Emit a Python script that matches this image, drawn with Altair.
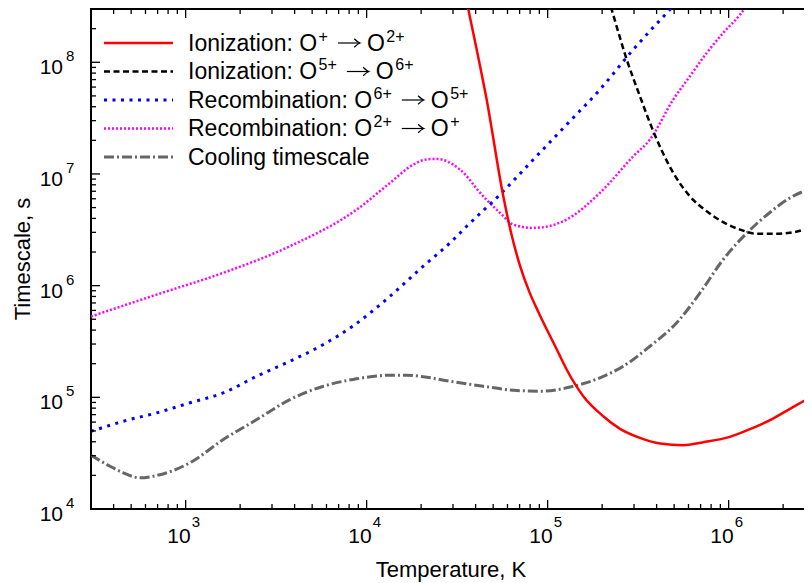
import altair as alt
import pandas as pd

FONT = "Liberation Sans"

# ---------------- data ----------------
# values are log10(T / K) and log10(timescale / s)
ion_o1_logT = [4.54, 4.562, 4.608, 4.663, 4.755, 4.80, 4.847, 4.90, 4.95, 5.05, 5.105,
               5.197, 5.307, 5.400, 5.510, 5.621, 5.749, 5.860, 6.007, 6.118, 6.228, 6.339, 6.460, 6.49]
ion_o1_logtau = [8.65, 8.472, 8.114, 7.666, 6.80, 6.46, 6.18, 5.94, 5.76, 5.43, 5.249,
                 5.010, 4.831, 4.718, 4.637, 4.586, 4.571, 4.598, 4.646, 4.715, 4.795, 4.897, 5.010, 5.04]

ion_o5_logT = [5.32, 5.354, 5.437, 5.510, 5.565, 5.694, 5.786, 5.879, 5.970, 6.063, 6.155, 6.247,
               6.339, 6.431, 6.460, 6.49]
ion_o5_logtau = [8.66, 8.472, 8.024, 7.696, 7.458, 7.010, 6.800, 6.666, 6.568, 6.502, 6.464, 6.464,
                 6.473, 6.511, 6.532, 6.555]

rec_o6_logT = [2.477, 2.656, 2.840, 3.024, 3.208, 3.393, 3.576, 3.761, 3.926, 4.129, 4.313, 4.461,
               4.553, 4.737, 4.921, 5.105, 5.289, 5.473, 5.565, 5.676, 5.72]
rec_o6_logtau = [4.695, 4.786, 4.861, 4.951, 5.040, 5.189, 5.323, 5.473, 5.64, 5.905, 6.174, 6.383,
                 6.532, 6.816, 7.129, 7.442, 7.756, 8.114, 8.28, 8.472, 8.55]

rec_o2_logT = [2.477, 2.840, 3.208, 3.576, 3.945, 4.129, 4.258, 4.33, 4.387, 4.516, 4.644, 4.737,
               4.810, 4.921, 5.013, 5.105, 5.289, 5.473, 5.565, 5.694, 5.786, 5.879, 5.970, 6.063, 6.11]
rec_o2_logtau = [5.724, 5.920, 6.115, 6.353, 6.681, 6.920, 7.084, 7.13, 7.135, 7.039, 6.800, 6.652,
                 6.547, 6.517, 6.535, 6.592, 6.831, 7.158, 7.308, 7.666, 7.875, 8.084, 8.263, 8.427, 8.53]

cool_logT = [2.477, 2.582, 2.656, 2.748, 2.840, 3.024, 3.208, 3.393, 3.576, 3.761, 3.945, 4.129,
             4.221, 4.313, 4.461, 4.644, 4.829, 4.976, 5.105, 5.289, 5.418, 5.565, 5.713, 5.842,
             5.970, 6.100, 6.228, 6.339, 6.431, 6.460, 6.49]
cool_logtau = [4.482, 4.383, 4.324, 4.279, 4.300, 4.414, 4.622, 4.801, 4.980, 5.099, 5.166, 5.198,
               5.198, 5.184, 5.144, 5.099, 5.061, 5.055, 5.085, 5.175, 5.278, 5.457, 5.667, 5.936,
               6.234, 6.47, 6.655, 6.786, 6.854, 6.867, 6.875]

# legend labels as (text, kind) pieces: b = normal, s = superscript, a = arrow
legend_labels = [
    [("Ionization: O", "b"), ("+", "s"), ("→", "a"), ("O", "b"), ("2+", "s")],
    [("Ionization: O", "b"), ("5+", "s"), ("→", "a"), ("O", "b"), ("6+", "s")],
    [("Recombination: O", "b"), ("6+", "s"), ("→", "a"), ("O", "b"), ("5+", "s")],
    [("Recombination: O", "b"), ("2+", "s"), ("→", "a"), ("O", "b"), ("+", "s")],
    [("Cooling timescale", "b")],
]
series_colors = ["#ff0000", "#000000", "#0000ff", "#ff00ff", "#666666"]
series_dash = [None, [6, 3.5], [3, 5.5], [2, 2], [10, 3, 2, 3]]
series_width = [2.5, 2.5, 3, 2.5, 3]
series_data = [
    (ion_o1_logT, ion_o1_logtau),
    (ion_o5_logT, ion_o5_logtau),
    (rec_o6_logT, rec_o6_logtau),
    (rec_o2_logT, rec_o2_logtau),
    (cool_logT, cool_logtau),
]

x_major = [1e3, 1e4, 1e5, 1e6]
x_major_exp = ["3", "4", "5", "6"]
y_major = [1e4, 1e5, 1e6, 1e7, 1e8]
y_major_exp = ["4", "5", "6", "7", "8"]
x_title = "Temperature, K"
y_title = "Timescale, s"

X_MIN, X_MAX = 300, 3e6
Y_MIN, Y_MAX = 1e4, 3e8
W, H = 724, 500

x_minor = [k * 10 ** n for n in range(2, 7) for k in range(2, 10) if X_MIN < k * 10 ** n < X_MAX]
y_minor = [k * 10 ** n for n in range(4, 9) for k in range(2, 10) if Y_MIN < k * 10 ** n < Y_MAX]

x_scale = alt.Scale(type="log", domain=[X_MIN, X_MAX], nice=False)
y_scale = alt.Scale(type="log", domain=[Y_MIN, Y_MAX], nice=False)

layers = []

# ---------------- curves ----------------
draw_order = [4, 3, 2, 1, 0]
for idx in draw_order:
    lt, ltau = series_data[idx]
    df = pd.DataFrame({
        "T": [10 ** v for v in lt],
        "tau": [10 ** v for v in ltau],
        "i": list(range(len(lt))),
    })
    kw = dict(color=series_colors[idx], strokeWidth=series_width[idx], clip=True,
              interpolate="monotone", strokeCap="butt")
    if series_dash[idx] is not None:
        kw["strokeDash"] = series_dash[idx]
    layers.append(
        alt.Chart(df).mark_line(**kw).encode(
            x=alt.X("T:Q", scale=x_scale, axis=None),
            y=alt.Y("tau:Q", scale=y_scale, axis=None),
            order="i:Q",
        )
    )

# ---------------- ticks (inward, mirrored) ----------------
def xticks(vals, length):
    d = pd.DataFrame({"v": vals})
    enc_x = alt.X("v:Q", scale=x_scale, axis=None)
    return [
        alt.Chart(d).mark_rule(color="black", strokeWidth=1.3).encode(
            x=enc_x, y=alt.value(H), y2=alt.value(H - length)),
        alt.Chart(d).mark_rule(color="black", strokeWidth=1.3).encode(
            x=enc_x, y=alt.value(0), y2=alt.value(length)),
    ]

def yticks(vals, length):
    d = pd.DataFrame({"v": vals})
    enc_y = alt.Y("v:Q", scale=y_scale, axis=None)
    return [
        alt.Chart(d).mark_rule(color="black", strokeWidth=1.3).encode(
            y=enc_y, x=alt.value(0), x2=alt.value(length)),
        alt.Chart(d).mark_rule(color="black", strokeWidth=1.3).encode(
            y=enc_y, x=alt.value(W), x2=alt.value(W - length)),
    ]

layers += xticks(x_major, 9) + xticks(x_minor, 5) + yticks(y_major, 9) + yticks(y_minor, 5)

# ---------------- tick labels (10 with superscript exponent) ----------------
xl = pd.DataFrame({"v": x_major, "e": x_major_exp, "b": ["10"] * len(x_major)})
layers.append(alt.Chart(xl).mark_text(align="right", baseline="alphabetic", dx=5,
                                      font=FONT, fontSize=21).encode(
    x=alt.X("v:Q", scale=x_scale, axis=None), y=alt.value(534), text="b:N"))
layers.append(alt.Chart(xl).mark_text(align="left", baseline="alphabetic", dx=6,
                                      font=FONT, fontSize=15).encode(
    x=alt.X("v:Q", scale=x_scale, axis=None), y=alt.value(518), text="e:N"))

yl = pd.DataFrame({"v": y_major, "e": y_major_exp, "b": ["10"] * len(y_major)})
layers.append(alt.Chart(yl).mark_text(align="right", baseline="alphabetic", dy=12,
                                      font=FONT, fontSize=21).encode(
    y=alt.Y("v:Q", scale=y_scale, axis=None), x=alt.value(-28), text="b:N"))
layers.append(alt.Chart(yl).mark_text(align="left", baseline="alphabetic", dy=-1,
                                      font=FONT, fontSize=15).encode(
    y=alt.Y("v:Q", scale=y_scale, axis=None), x=alt.value(-25), text="e:N"))

# ---------------- axis titles ----------------
layers.append(alt.Chart(pd.DataFrame({"t": [x_title]})).mark_text(
    align="center", baseline="alphabetic", font=FONT, fontSize=22).encode(
    x=alt.value(360), y=alt.value(568), text="t:N"))
layers.append(alt.Chart(pd.DataFrame({"t": [y_title]})).mark_text(
    align="center", baseline="alphabetic", angle=270, font=FONT, fontSize=22).encode(
    x=alt.value(-61), y=alt.value(250), text="t:N"))

# ---------------- legend (hand-placed, Arial/Liberation advance widths) ----------------
ADV = {"I": 278, "o": 556, "n": 556, "i": 222, "z": 500, "a": 556, "t": 278, ":": 278,
       " ": 278, "O": 778, "R": 722, "e": 556, "c": 500, "m": 833, "b": 556, "C": 722,
       "l": 222, "g": 556, "s": 500, "+": 584}

def text_width(s, size):
    return sum(ADV.get(ch, 556) for ch in s) * size / 1000.0

ARROW_HEAD = "M -1 -0.75 Q -0.35 -0.12 0 0 Q -0.35 0.12 -1 0.75"
BASE_FS, SUP_FS = 23, 16
for i, pieces in enumerate(legend_labels):
    yrow = 34 + 28.5 * i
    base_y = yrow + 7.5
    kw = dict(color=series_colors[i], strokeWidth=series_width[i], strokeCap="butt")
    if series_dash[i] is not None:
        kw["strokeDash"] = series_dash[i]
    layers.append(alt.Chart(pd.DataFrame({"k": [i]})).mark_rule(**kw).encode(
        x=alt.value(13), x2=alt.value(82), y=alt.value(yrow)))
    cursor = 97.0
    for txt, kind in pieces:
        if kind == "a":
            xa, ya = cursor + 10, base_y - 7.5
            one = pd.DataFrame({"t": [txt]})
            layers.append(alt.Chart(one).mark_rule(color="black", strokeWidth=1.2).encode(
                x=alt.value(xa), x2=alt.value(xa + 21.5), y=alt.value(ya)))
            layers.append(alt.Chart(one).mark_point(
                shape=ARROW_HEAD, filled=False, color="black", strokeWidth=1.2,
                size=130, opacity=1).encode(x=alt.value(xa + 22), y=alt.value(ya)))
            cursor += 39
            continue
        if kind == "b":
            fs, yy, xx, adv = BASE_FS, base_y, cursor, text_width(txt, BASE_FS)
        else:
            xx = cursor + 1.5
            fs, yy, adv = SUP_FS, base_y - 9, 1.5 + text_width(txt, SUP_FS)
        layers.append(alt.Chart(pd.DataFrame({"t": [txt]})).mark_text(
            align="left", baseline="alphabetic", font=FONT, fontSize=fs).encode(
            x=alt.value(xx), y=alt.value(yy), text="t:N"))
        cursor += adv

chart = alt.layer(*layers).properties(
    width=W, height=H,
    padding={"left": 83, "top": 1, "right": -11, "bottom": 74},
    autosize=alt.AutoSizeParams(type="none"),
    background="white",
).configure_view(stroke="black", strokeWidth=2)

chart.save("out.html", embed_options={"renderer": "svg", "actions": False})
